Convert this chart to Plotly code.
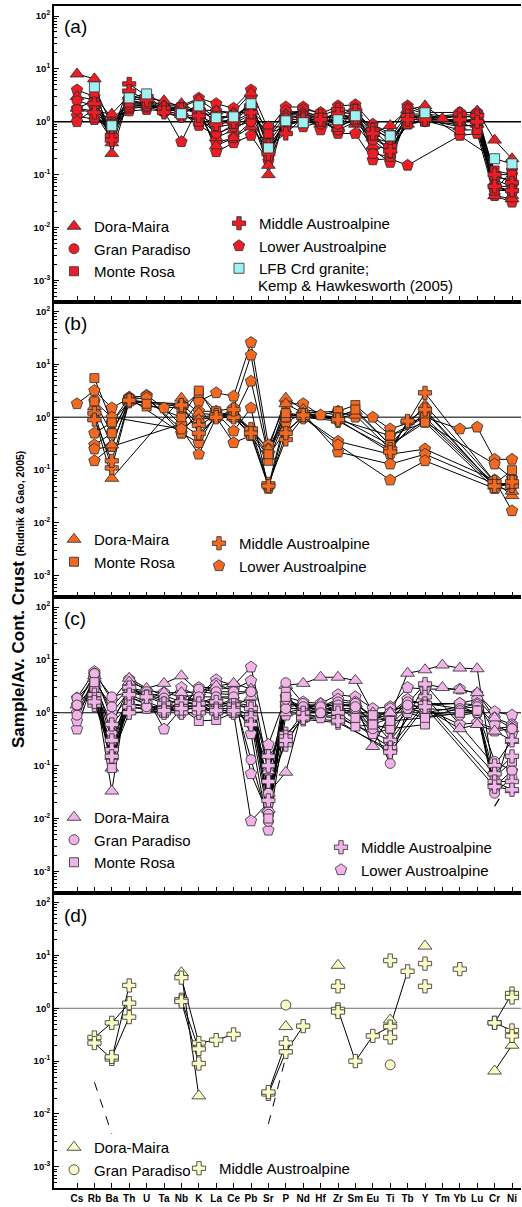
import plotly.graph_objects as go
from plotly.subplots import make_subplots

N = None
ELEMENTS = ["Cs", "Rb", "Ba", "Th", "U", "Ta", "Nb", "K", "La", "Ce", "Pb", "Sr", "P", "Nd", "Hf",
            "Zr", "Sm", "Eu", "Ti", "Tb", "Y", "Tm", "Yb", "Lu", "Cr", "Ni"]
X = list(range(len(ELEMENTS)))
Y_TICKS = [1e-3, 1e-2, 1e-1, 1e0, 1e1, 1e2]
Y_TICKTEXT = ["10<sup>-3</sup>", "10<sup>-2</sup>", "10<sup>-1</sup>", "10<sup>0</sup>", "10<sup>1</sup>", "10<sup>2</sup>"]
Y_MINOR = [m * 10.0 ** e for e in range(-4, 3) for m in range(2, 10)]

# ---------------- panel (a) ----------------
A_DORA = [
    [8.0, 6.5, 0.25, 3.0, N, 2.5, 1.9, 2.6, 1.6, 1.5, 3.5, 0.10, 1.4, 1.5, 1.3, 0.8, 1.5, 0.6, 0.85, 1.7, 2.0, 1.15, 1.4, 1.6, 0.45, 0.20],
    [3.0, 2.6, 0.40, 2.5, N, 1.8, 1.5, 2.0, 0.5, 0.7, 1.2, 0.15, 1.2, 1.3, 1.0, 0.75, 1.2, 0.5, 0.4, 1.2, 1.2, N, 1.0, 1.2, 0.07, 0.04],
    [1.8, 1.6, 1.40, 3.2, N, 2.0, 2.2, 1.5, 0.35, 0.5, 0.8, 0.30, 0.9, 1.1, 0.9, 1.7, 0.9, 0.35, 0.3, 0.9, 1.1, N, 0.8, 0.9, 0.04, 0.035],
]
A_GP = [
    [2.5, 2.0, 0.70, 2.6, 2.2, 1.7, 1.6, 1.8, 1.0, 1.1, 1.8, 0.50, 1.3, 1.4, 1.2, 1.2, 1.3, 0.7, 0.5, 1.4, 1.4, N, 1.2, 1.3, 0.09, 0.08],
    [1.7, 1.5, 0.55, 2.1, 2.0, 1.5, 1.2, 1.2, 0.6, 0.8, 1.0, 0.35, 0.9, 1.0, 0.9, 0.9, 1.0, 0.45, 0.25, 1.0, 1.0, N, 0.9, 0.8, 0.06, 0.06],
]
A_MR = [
    [N, 3.5, 0.60, 2.8, 2.5, 1.8, 1.9, 1.5, 1.3, 1.2, 2.0, 0.40, 1.1, 1.3, 1.1, 1.5, 1.4, 0.8, 0.45, 1.2, 1.0, N, 1.1, 1.0, 0.12, 0.10],
    [N, 1.2, 0.90, 2.3, 2.2, 1.6, 1.4, 1.0, 0.8, 0.9, 1.4, 0.60, 0.8, 1.1, 1.0, 1.2, 1.1, 0.55, 0.3, 0.9, 1.05, N, 0.7, 0.7, 0.05, 0.05],
]
A_MA = [
    [N, 2.2, 0.55, 5.2, 3.0, 1.8, 1.7, 1.6, 1.1, 1.3, 2.0, 0.35, 0.6, 1.2, 1.3, 1.7, 1.6, 0.7, 0.35, 1.3, 1.2, N, 1.4, 1.3, 0.10, 0.07],
    [N, 1.5, 0.45, 3.8, 2.6, 1.5, 1.3, 1.3, 0.9, 1.0, 1.5, 0.25, 1.1, 1.1, 1.1, 1.4, 1.2, 0.6, 0.28, 1.1, 1.1, N, 1.1, 1.0, 0.06, 0.05],
]
A_LA = [
    [4.0, 3.0, 1.2, 2.0, 2.0, 2.0, 2.0, 2.8, 2.2, 1.8, 4.0, 0.70, 1.9, 1.9, 1.4, 2.0, 2.1, 0.9, 0.6, 2.0, 1.5, N, 1.5, 1.5, 0.10, 0.10],
    [1.3, 1.1, 0.8, 1.6, 1.7, 1.6, 0.42, 2.0, 0.27, 0.4, 0.55, 0.18, 1.5, 1.6, 1.2, 0.6, 0.6, 0.19, 0.2, 0.15, N, N, 0.55, 0.6, 0.04, 0.03],
    [1.0, 1.8, 1.0, 1.8, 1.9, 1.8, 1.5, 0.85, 0.55, 0.9, 2.8, 0.55, 1.6, 1.4, 0.7, 1.3, 1.8, 0.3, 0.17, 1.3, 1.3, N, 1.0, 1.1, 0.08, 0.06],
    [1.8, 2.5, 0.65, 2.2, 2.1, 1.7, 1.8, 1.4, 0.4, 0.5, 1.0, 0.22, 1.2, 1.7, 1.5, 0.9, 1.5, 0.25, 0.22, 1.8, 1.4, N, 0.9, 0.8, 0.06, 0.045],
    [N, 1.4, 0.9, 1.9, N, 1.9, 1.7, 1.7, 1.6, 1.4, 1.6, 0.8, 0.8, 0.8, 1.0, 0.7, 1.0, 0.5, 0.3, 0.9, N, N, 1.3, 1.2, 0.05, 0.12],
]
A_LFB = [
    [N, 4.57, 0.84, 2.83, 3.37, N, 1.42, 2.0, 1.19, 1.24, 2.19, 0.32, 1.04, 0.96, N, 1.09, 1.3, N, 0.54, N, 1.48, N, N, N, 0.2, 0.16],
]

# ---------------- panel (b) ----------------
B_DORA = [
    [N, 1.0, 0.07, N, N, N, 2.3, 1.2, 1.1, 1.2, 0.6, 0.25, 2.3, 1.4, N, 1.1, 1.3, N, 0.3, N, 1.7, N, N, N, 0.06, 0.033],
    [N, 1.6, 0.3, 2.0, N, N, 1.8, 0.9, 1.0, 1.0, 0.5, 0.18, 1.8, 1.2, N, 1.0, 1.1, N, 0.25, N, 1.3, N, N, N, 0.05, 0.04],
]
B_MR = [
    [N, 5.5, 0.8, 2.0, 1.6, N, 1.5, 2.9, 1.3, 1.0, 0.45, 0.15, 1.0, 1.2, N, 1.3, 1.7, N, 0.45, N, 1.0, N, N, N, 0.055, 0.1],
    [N, 2.0, 0.5, 2.2, 1.8, N, 1.0, 3.2, 1.0, 1.2, 0.55, 0.2, 1.2, 1.0, N, 1.0, 1.4, N, 0.3, N, 0.8, N, N, N, 0.045, 0.065],
]
B_MA = [
    [N, 1.2, 0.11, 2.0, N, N, 1.6, 0.7, 1.1, 1.0, 0.6, 0.055, 0.38, 1.0, N, 0.85, N, N, 0.25, 0.8, 2.9, N, N, N, 0.06, 0.05],
    [N, 0.9, 0.15, 2.1, N, N, 1.7, 0.5, 1.0, 1.4, 0.5, 0.05, 0.5, 1.1, N, 0.9, N, N, 0.22, 0.85, 1.4, N, N, N, 0.05, 0.06],
]
B_LA = [
    [1.8, 3.2, 1.5, 2.3, 2.6, 1.5, 0.7, 2.0, 2.9, 2.5, 26, 0.3, 1.8, 1.8, 1.1, 1.3, 1.0, 1.0, 0.6, N, 1.0, N, 0.6, 0.65, 0.16, 0.16],
    [N, 0.5, 0.8, 2.4, 2.5, N, 0.5, 1.3, 1.3, 1.5, 15, 0.2, 1.0, 1.2, N, 0.9, N, N, 0.45, N, 0.8, N, N, N, 0.13, 0.07],
    [N, 0.3, 0.5, 2.2, 2.3, N, 0.6, 0.2, 1.0, 1.0, 4.8, 0.19, 0.55, 1.0, N, 0.35, N, N, 0.2, N, 0.25, N, N, N, 0.065, 0.017],
    [N, 0.15, 0.28, 2.3, N, N, 0.5, 0.33, 1.2, 0.55, 1.5, 0.045, 0.8, 1.2, N, 0.22, N, N, 0.13, N, 0.2, N, N, N, 0.055, 0.05],
    [N, 0.25, 0.28, N, N, N, 0.75, 0.45, 1.0, 0.33, 0.45, 0.05, 1.0, 1.0, N, 0.3, N, N, 0.065, N, 0.15, N, N, N, 0.045, 0.06],
    [N, 2.0, 1.0, N, N, N, 0.6, 1.0, 1.1, 1.1, 0.55, 0.25, 1.2, 1.1, N, 1.0, N, N, 0.3, N, 0.9, N, N, N, 0.05, 0.055],
]

# ---------------- panel (c) ----------------
C_DORA = [
    [N, 3.5, 0.033, 4.5, 2.9, 3.6, 5.0, 2.5, 3.2, 3.6, 2.8, 0.015, 3.3, 3.6, 4.7, 4.7, 4.1, 1.0, 0.9, 5.6, 6.5, 8.0, 7.0, 6.8, 0.05, 0.035],
    [N, 4.5, 0.09, 3.0, 2.0, 2.4, 2.4, 1.5, 2.0, 1.8, 1.5, 0.03, 0.075, 1.3, 1.5, 1.3, 1.5, 0.23, 1.0, 1.5, 3.5, 3.0, 2.7, 2.4, 0.8, 0.5],
    [1.4, 5.0, 0.15, 3.8, N, N, 1.6, 1.8, 1.5, 1.3, 2.0, 0.08, 1.0, 1.2, N, 1.2, 1.0, 0.5, 0.6, 1.2, 1.2, N, 0.5, 0.6, 0.45, 0.3],
]
C_GP = [
    [1.9, 4.0, 1.3, 3.0, 2.5, 1.9, 1.4, 2.8, 2.5, 2.5, 2.5, 0.03, 3.7, 1.5, 1.3, 1.6, 1.5, 0.8, 0.7, 1.6, 1.5, N, 1.2, 1.3, 0.035, 0.5],
    [0.9, 3.5, 0.6, 1.5, 1.3, 1.3, 1.1, 1.3, 1.5, 1.5, 1.2, 0.012, 1.2, 1.2, 1.0, 1.2, 1.2, 0.5, 0.11, 1.2, 1.0, N, 0.9, 1.0, 0.03, 0.06],
    [1.4, 5.5, 2.0, 2.5, 2.2, 1.6, 1.6, 2.0, 2.0, 2.0, 0.13, 0.0088, 1.8, 1.3, N, 1.4, 1.3, 0.7, 0.3, 1.4, 1.2, N, 1.1, 1.1, 0.12, 0.08],
]
C_MR = [
    [N, 3.0, 0.09, 2.0, N, 1.0, 1.2, 0.7, 0.73, 1.0, 0.7, 0.01, 2.5, 0.8, N, 0.9, 0.55, 0.6, 0.5, N, 0.6, N, N, N, N, N],
    [N, 3.8, 0.3, 1.5, N, 1.2, 1.5, 1.2, 1.2, 1.5, 1.4, 0.02, 2.0, 1.0, N, 1.2, 0.8, 0.9, 0.7, N, 0.8, N, 1.0, 1.1, 0.06, 0.12],
]
C_MA = [
    [N, 2.2, 0.6, 3.0, 2.0, 1.5, 1.3, 1.3, 1.6, 1.4, 1.2, 0.15, 0.4, 0.75, N, 0.65, N, N, 0.2, N, 3.5, N, N, N, 0.1, 0.3],
    [N, 1.4, 0.3, 2.2, N, 1.2, 1.0, 1.0, 1.2, 1.2, 0.9, 0.05, 0.25, 0.9, N, 0.8, N, N, 0.3, N, 2.0, N, N, N, 0.07, 0.15],
    [N, 1.8, 0.2, 1.3, N, 1.0, 1.6, 1.5, 1.0, 1.0, 0.8, 0.022, 0.35, 1.0, N, 1.0, N, N, 0.22, N, 1.5, N, N, N, 0.05, 0.05],
    [N, 1.6, 0.15, 1.0, N, 1.1, 1.2, 1.2, 1.1, 1.1, 0.6, 0.1, 0.3, 0.8, N, 0.7, N, N, 0.18, N, 1.3, N, N, N, 0.04, 0.035],
]
C_LA = [
    [1.9, 6.0, 1.7, 4.3, 2.6, 2.4, 2.0, 2.2, 4.2, 3.3, 7.3, 0.25, 2.0, 1.6, 1.5, 2.2, 2.0, 1.2, 1.3, 3.0, 2.8, N, 2.8, 2.3, 1.05, 0.9],
    [0.49, 4.8, 1.0, 2.5, 2.0, 0.49, 1.2, 3.0, 3.0, 2.8, 4.0, 0.08, 1.5, 1.3, 1.3, 1.8, 1.6, 0.8, 0.9, 1.7, 1.5, N, 1.5, 1.8, 0.8, 0.6],
    [0.7, 5.2, 0.8, 2.0, 1.5, 1.0, 2.4, 2.5, 2.3, 2.2, 2.5, 0.03, 1.2, 1.2, 1.2, 1.5, 1.3, 0.6, 0.8, 1.5, 1.2, N, 0.6, 0.65, 0.5, 0.55],
    [1.0, 4.5, 0.4, 1.5, 1.3, 1.3, 1.0, 1.8, 1.4, 1.8, 0.4, 0.006, 0.9, 1.0, 0.8, 1.2, 1.0, 0.4, 0.5, 1.0, 0.8, N, 1.2, 1.5, 0.45, 0.5],
    [1.4, 3.3, 0.15, 1.3, 1.2, 1.1, 1.5, 1.5, 1.2, 1.0, 0.009, 0.02, 1.3, 1.4, 1.0, 1.0, 1.2, 0.7, 1.2, 1.2, 1.0, N, 1.3, 1.0, 0.04, 0.08],
    [N, 5.5, 0.12, 3.0, 2.2, 1.8, 3.0, 2.0, 3.5, 2.6, 0.07, 0.012, 1.5, 1.4, 1.1, 1.4, 1.4, 0.9, 1.0, 1.8, 1.4, N, 1.5, 1.4, 0.6, 0.4],
]
C_DASH_X = [24, 24.4]
C_DASH_Y = [0.017, 0.028]

# ---------------- panel (d) ----------------
D_DORA = [
    [N, N, N, N, N, N, 4.7, 0.022, N, N, N, N, 0.45, N, N, 6.5, N, N, 0.6, N, 15, N, N, N, 0.065, 0.2],
]
D_GP = [
    [N, N, N, N, N, N, N, N, N, N, N, N, 1.15, N, N, N, N, N, 0.085, N, N, N, N, N, N, N],
]
D_MA = [
    [N, 0.28, 0.53, 1.25, N, N, 3.8, 0.22, 0.25, 0.32, N, 0.024, 0.15, 0.46, N, 0.95, 0.1, 0.3, 0.45, 5.0, N, N, N, N, 0.53, 0.38],
    [N, 0.22, 0.11, 2.7, N, N, 1.45, 0.17, N, N, N, 0.026, 0.22, N, N, 2.6, N, N, 8.0, N, 7.0, N, 5.5, N, 0.53, 1.9],
    [N, N, 0.12, 0.68, N, N, 1.35, 0.09, N, N, N, N, N, N, N, 0.85, N, N, 0.28, N, 2.6, N, N, N, N, 0.3],
    [N, N, N, N, N, N, N, N, N, N, N, N, N, N, N, N, N, N, N, N, N, N, N, N, N, 1.6],
]
D_DASH = [
    [N, 0.04, 0.0042, N, N, N, N, N, N, N, N, N, N, N, N, N, N, N, N, N, N, N, N, N, N, N],
    [N, N, N, N, N, N, N, N, N, N, N, 0.0065, 0.12, N, N, N, N, N, N, N, N, N, N, N, N, N],
]

for arr in [A_DORA, A_GP, A_MR, A_MA, A_LA, A_LFB, B_DORA, B_MR, B_MA, B_LA, C_DORA, C_GP, C_MR, C_MA,
            C_LA, D_DORA, D_GP, D_MA, D_DASH]:
    for s in arr:
        assert len(s) == len(ELEMENTS), s

# ---------------- styling ----------------
W, H = 522, 1207
ML, MR, MT, MB = 54, 1, 6, 19
PW, PH = W - ML - MR, H - MT - MB
FONT = "Liberation Sans, Arial, sans-serif"
PANEL_COLORS = ["#ee1c24", "#f26a21", "#f0b4e8", "#fbfbc8"]
LFB_COLOR = "#a0f2f2"
EDGE = "#2a2a2a"
SYMBOL = {"Dora-Maira": "triangle-up", "Gran Paradiso": "circle", "Monte Rosa": "square",
          "Middle Austroalpine": "cross", "Lower Austroalpine": "pentagon", "LFB": "square"}
SIZE = {"Dora-Maira": 12, "Gran Paradiso": 10, "Monte Rosa": 9, "Middle Austroalpine": 11,
        "Lower Austroalpine": 12, "LFB": 10}
X_RANGE = [(ML - 77) / 17.4, (W - MR - 77) / 17.4]
Y_RANGE = [-3.4, 2.19]


def px_x(px):
    return (px - ML) / PW


def px_y(py):
    return (H - MB - py) / PH


fig = make_subplots(rows=4, cols=1, vertical_spacing=0)


def ref_line(row, color, width):
    fig.add_trace(go.Scatter(x=X_RANGE, y=[1, 1], mode="lines", line=dict(color=color, width=width),
                             showlegend=False, hoverinfo="skip"), row=row, col=1)


def add_lines(row, samples, connect=True, dash="solid"):
    for s in samples:
        fig.add_trace(go.Scatter(x=X, y=s, mode="lines", connectgaps=connect,
                                 line=dict(color="black", width=1, dash=dash),
                                 showlegend=False, hoverinfo="skip"), row=row, col=1)


def marker(group, color):
    return dict(symbol=SYMBOL[group], size=SIZE[group], color=color, line=dict(color=EDGE, width=0.8))


def add_markers(row, group, samples, color):
    xs, ys = [], []
    for s in samples:
        for i, v in enumerate(s):
            if v is not None:
                xs.append(i)
                ys.append(v)
    fig.add_trace(go.Scatter(x=xs, y=ys, mode="markers", marker=marker(group, color),
                             showlegend=False, hoverinfo="skip"), row=row, col=1)


def add_legend_entry(label, group, color, legend_id):
    fig.add_trace(go.Scatter(x=[None], y=[None], mode="markers", marker=marker(group, color),
                             name=label, legend=legend_id, legendgroup=legend_id + label,
                             showlegend=True, hoverinfo="skip"), row=1, col=1)


panels = [
    (1, [("Dora-Maira", A_DORA), ("Gran Paradiso", A_GP), ("Monte Rosa", A_MR),
         ("Middle Austroalpine", A_MA), ("Lower Austroalpine", A_LA)], "black", 1.3),
    (2, [("Dora-Maira", B_DORA), ("Monte Rosa", B_MR), ("Middle Austroalpine", B_MA),
         ("Lower Austroalpine", B_LA)], "#505050", 1.6),
    (3, [("Dora-Maira", C_DORA), ("Gran Paradiso", C_GP), ("Monte Rosa", C_MR),
         ("Middle Austroalpine", C_MA), ("Lower Austroalpine", C_LA)], "black", 1.2),
    (4, [("Dora-Maira", D_DORA), ("Gran Paradiso", D_GP), ("Middle Austroalpine", D_MA)], "#707070", 1.0),
]

for row, groups, hcol, hw in panels:
    ref_line(row, hcol, hw)
    connect = row != 4
    for g, samples in groups:
        add_lines(row, samples, connect)
    if row == 1:
        add_lines(row, A_LFB)
    if row == 3:
        fig.add_trace(go.Scatter(x=C_DASH_X, y=C_DASH_Y, mode="lines",
                                 line=dict(color="black", width=1.2, dash="dash"),
                                 showlegend=False, hoverinfo="skip"), row=3, col=1)
    if row == 4:
        add_lines(row, D_DASH, False, "dash")
    order = sorted(groups, key=lambda t: 0 if t[0] == "Lower Austroalpine" else 1)
    for g, samples in order:
        add_markers(row, g, samples, PANEL_COLORS[row - 1])
    if row == 1:
        add_markers(row, "LFB", A_LFB, LFB_COLOR)

# legends (inside the plot area in paper coordinates so they do not push margins)
legend_specs = [
    ("legend", 54, 210, 3, [("Dora-Maira", "Dora-Maira", PANEL_COLORS[0]),
                            ("Gran Paradiso", "Gran Paradiso", PANEL_COLORS[0]),
                            ("Monte Rosa", "Monte Rosa", PANEL_COLORS[0])]),
    ("legend2", 219, 207, 1, [("Middle Austroalpine", "Middle Austroalpine", PANEL_COLORS[0]),
                              ("Lower Austroalpine", "Lower Austroalpine", PANEL_COLORS[0]),
                              ("LFB Crd granite;", "LFB", LFB_COLOR)]),
    ("legend3", 54, 523, 4, [("Dora-Maira", "Dora-Maira", PANEL_COLORS[1]),
                             ("Monte Rosa", "Monte Rosa", PANEL_COLORS[1])]),
    ("legend4", 199, 527, 4, [("Middle Austroalpine", "Middle Austroalpine", PANEL_COLORS[1]),
                              ("Lower Austroalpine", "Lower Austroalpine", PANEL_COLORS[1])]),
    ("legend5", 54, 801, 0, [("Dora-Maira", "Dora-Maira", PANEL_COLORS[2]),
                             ("Gran Paradiso", "Gran Paradiso", PANEL_COLORS[2]),
                             ("Monte Rosa", "Monte Rosa", PANEL_COLORS[2])]),
    ("legend6", 321, 831, 0, [("Middle Austroalpine", "Middle Austroalpine", PANEL_COLORS[2]),
                              ("Lower Austroalpine", "Lower Austroalpine", PANEL_COLORS[2])]),
    ("legend7", 54, 1131, 0, [("Dora-Maira", "Dora-Maira", PANEL_COLORS[3]),
                              ("Gran Paradiso", "Gran Paradiso", PANEL_COLORS[3])]),
    ("legend8", 179, 1152, 0, [("Middle Austroalpine", "Middle Austroalpine", PANEL_COLORS[3])]),
]
legend_layout = {}
for lid, px, py, gap, entries in legend_specs:
    for label, g, col in entries:
        add_legend_entry(label, g, col, lid)
    legend_layout[lid] = dict(x=max(0.0, px_x(px)), y=px_y(py), xref="paper", yref="paper",
                              xanchor="left", yanchor="top", bgcolor="rgba(0,0,0,0)", borderwidth=0,
                              font=dict(family=FONT, size=15, color="black"), tracegroupgap=gap,
                              valign="top", traceorder="normal", itemclick=False, itemdoubleclick=False)

fig.update_layout(width=W, height=H, margin=dict(l=ML, r=MR, t=MT, b=MB, autoexpand=False),
                  paper_bgcolor="white", plot_bgcolor="white", font=dict(family=FONT, color="black"),
                  **legend_layout)

for row in range(1, 5):
    fig.update_xaxes(range=X_RANGE, tickmode="array", tickvals=X, ticktext=ELEMENTS,
                     showticklabels=(row == 4), ticks="inside", ticklen=5, tickwidth=1, tickcolor="black",
                     showline=True, linewidth=2.2, linecolor="black", mirror=True, showgrid=False,
                     zeroline=False, tickfont=dict(family=FONT, size=10, color="black", weight="bold"),
                     row=row, col=1)
    fig.update_yaxes(type="log", range=Y_RANGE, tickmode="array", tickvals=Y_TICKS, ticktext=Y_TICKTEXT,
                     ticks="inside", ticklen=5, tickwidth=1, tickcolor="black",
                     minor=dict(tickmode="array", tickvals=Y_MINOR, ticks="inside", ticklen=3, tickwidth=1,
                                tickcolor="black", showgrid=False),
                     showline=True, linewidth=2, linecolor="black", showgrid=False, zeroline=False,
                     tickfont=dict(family=FONT, size=9.5, color="black", weight="bold"), row=row, col=1)

for lbl, cy in [("(a)", 26), ("(b)", 323), ("(c)", 618), ("(d)", 915)]:
    fig.add_annotation(text=lbl, x=px_x(62), y=px_y(cy), xref="paper", yref="paper", xanchor="left",
                       yanchor="middle", showarrow=False, font=dict(family=FONT, size=19, color="black"))

# second line of the LFB legend entry
fig.add_annotation(text="Kemp & Hawkesworth (2005)", x=px_x(256), y=px_y(285), xref="paper", yref="paper",
                   xanchor="left", yanchor="middle", showarrow=False,
                   font=dict(family=FONT, size=15, color="black"))

fig.add_annotation(text="<b>Sample/Av. Cont. Crust </b><b><span style='font-size:10.5px'>(Rudnik & Gao, 2005)</span></b>",
                   x=px_x(18), y=px_y(600), xref="paper", yref="paper", xanchor="center", yanchor="middle",
                   textangle=-90, showarrow=False, font=dict(family=FONT, size=17, color="black"))

fig.write_html("out.html")
